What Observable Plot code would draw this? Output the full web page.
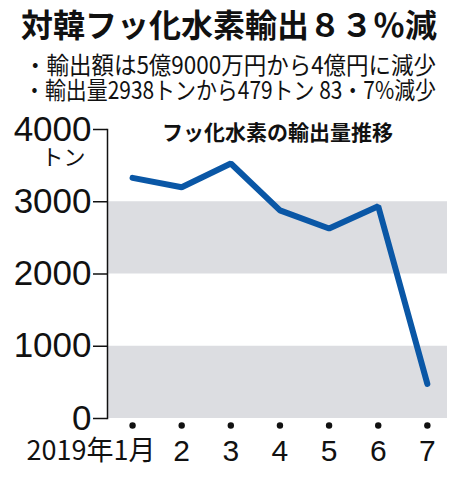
<!DOCTYPE html>
<html><head><meta charset="utf-8">
<script src="https://cdn.jsdelivr.net/npm/d3@7"></script>
<script src="https://cdn.jsdelivr.net/npm/@observablehq/plot@0.6"></script>
<style>
body{margin:0;background:#fff;width:467px;height:480px;overflow:hidden;position:relative;font-family:"Noto Sans CJK JP",sans-serif}
.t{position:absolute;white-space:nowrap;color:#111;transform-origin:0 50%}
#title{top:4px;left:21px;font-size:32px;font-weight:700;line-height:38px}
#s1{top:52px;left:24px;font-size:24px;line-height:24px}
#s2{top:77px;left:24px;font-size:24px;line-height:24px}
#chart{position:absolute;top:100px;left:0}
</style></head>
<body>
<div id="title" class="t"></div>
<div id="s1" class="t"></div>
<div id="s2" class="t"></div>
<div id="chart"></div>
<script>
const title = "対韓フッ化水素輸出８３％減";
const subtitles = ["・輸出額は5億9000万円から4億円に減少", "・輸出量2938トンから479トン 83・7%減少"];
const chartTitle = "フッ化水素の輸出量推移";
const unitLabel = "トン";
const months = [1, 2, 3, 4, 5, 6, 7];
const monthLabels = ["2019年1月", "2", "3", "4", "5", "6", "7"];
const volumes = [3330, 3200, 3530, 2880, 2630, 2938, 479];
const yTicks = [0, 1000, 2000, 3000, 4000];
const bandLow = [0, 2000];
const bandHigh = [1000, 3000];

document.getElementById("title").textContent = title;
["s1", "s2"].forEach((id, i) => {
  const el = document.getElementById(id);
  el.textContent = subtitles[i];
  const w = el.getBoundingClientRect().width;
  el.style.transform = `scaleX(${412 / w})`;
});
{
  const el = document.getElementById("title");
  const w = el.getBoundingClientRect().width;
  el.style.transform = `scaleX(${416 / w})`;
}

const numFont = "'Liberation Sans', Arial, sans-serif";
const jpFont = "'Noto Sans CJK JP', sans-serif";

const chart = Plot.plot({
  width: 467, height: 380,
  marginLeft: 107, marginRight: 20, marginTop: 29, marginBottom: 62,
  x: {domain: [0.49, 7.41], axis: null},
  y: {domain: [0, 4000], axis: null},
  style: {background: "transparent", color: "#111"},
  marks: [
    Plot.rect(bandLow, {y1: d => d, y2: (d, i) => bandHigh[i], fill: "#dcdde1"}),
    Plot.frame({anchor: "left", stroke: "#111", strokeWidth: 1.5}),
    Plot.axisY({ticks: yTicks, tickSize: 14, tickPadding: 2, tickFormat: d => String(d),
      fontSize: 35, fontFamily: numFont, stroke: "#111", strokeWidth: 1.5}),
    Plot.text([unitLabel], {y: () => d3.max(yTicks), frameAnchor: "left", dx: -22, dy: 28,
      textAnchor: "end", lineAnchor: "middle", fontSize: 22, fontFamily: jpFont, fill: "#111"}),
    Plot.text([chartTitle], {frameAnchor: "top", dy: 4, lineAnchor: "middle", fontSize: 21, fontWeight: 700,
      fontFamily: jpFont, fill: "#111"}),
    Plot.line(months, {x: d => d, y: (d, i) => volumes[i], stroke: "#0a57a6", strokeWidth: 6,
      strokeLinejoin: "miter"}),
    Plot.dot(months, {x: d => d, frameAnchor: "bottom", dy: 7, r: 3.2, fill: "#111", stroke: null}),
    Plot.text(months.slice(1), {x: d => d, text: d => monthLabels[d - 1], frameAnchor: "bottom",
      dy: 33, lineAnchor: "middle", fontSize: 30, fontFamily: numFont, fill: "#111"}),
    Plot.text(months.slice(0, 1), {x: d => d, text: d => monthLabels[d - 1], frameAnchor: "bottom",
      dy: 33, dx: 23, textAnchor: "end", lineAnchor: "middle", fontSize: 27, fontFamily: jpFont, fill: "#111"})
  ]
});
document.getElementById("chart").appendChild(chart);
</script>
</body></html>
